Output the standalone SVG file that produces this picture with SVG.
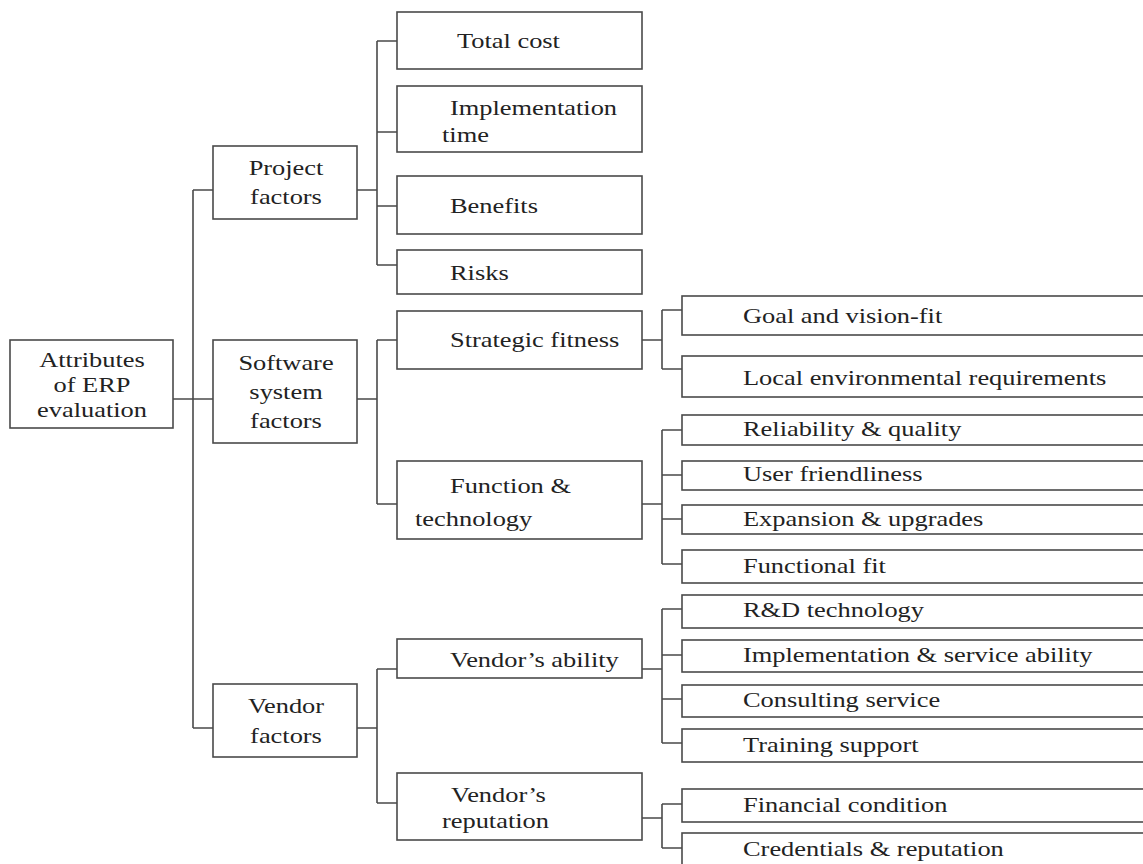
<svg xmlns="http://www.w3.org/2000/svg" width="1143" height="864" viewBox="0 0 1143 864">
<style>
  .box { fill: #ffffff; stroke: #4a4a4a; stroke-width: 1.6; }
  .con { fill: none; stroke: #4a4a4a; stroke-width: 1.6; }
  text { font-family: "Liberation Serif", "Times New Roman", serif; font-size: 22px; fill: #222222; }
  .mid { text-anchor: middle; }
</style>
<rect x="0" y="0" width="1143" height="864" fill="#ffffff"/>
<g id="connectors" class="con">
  <path d="M173,399 H213"/>
  <path d="M193,190 V728 M193,190 H213 M193,728 H213"/>
  <path d="M357,190 H377 M377,41 V265 M377,41 H397 M377,132 H397 M377,206 H397 M377,265 H397"/>
  <path d="M357,399 H377 M377,340 V504 M377,340 H397 M377,504 H397"/>
  <path d="M357,728 H377 M377,669 V803 M377,669 H397 M377,803 H397"/>
  <path d="M642,340 H662 M662,310 V369 M662,310 H682 M662,369 H682"/>
  <path d="M642,504 H662 M662,430 V564 M662,430 H682 M662,475 H682 M662,519 H682 M662,564 H682"/>
  <path d="M642,669 H662 M662,609 V743 M662,609 H682 M662,655 H682 M662,699 H682 M662,743 H682"/>
  <path d="M642,818 H662 M662,804 V848 M662,804 H682 M662,848 H682"/>
</g>
<g id="root">
  <rect class="box" x="10" y="340" width="163" height="88"/>
  <text class="mid" transform="translate(92,367) scale(1.2,1)">Attributes</text>
  <text class="mid" transform="translate(92,392) scale(1.2,1)">of ERP</text>
  <text class="mid" transform="translate(92,417) scale(1.2,1)">evaluation</text>
</g>
<g id="project-factors">
  <rect class="box" x="213" y="146" width="144" height="73"/>
  <text class="mid" transform="translate(286,175) scale(1.2,1)">Project</text>
  <text class="mid" transform="translate(286,204) scale(1.2,1)">factors</text>
</g>
<g id="software-factors">
  <rect class="box" x="213" y="340" width="144" height="103"/>
  <text class="mid" transform="translate(286,370) scale(1.2,1)">Software</text>
  <text class="mid" transform="translate(286,399) scale(1.2,1)">system</text>
  <text class="mid" transform="translate(286,428) scale(1.2,1)">factors</text>
</g>
<g id="vendor-factors">
  <rect class="box" x="213" y="684" width="144" height="73"/>
  <text class="mid" transform="translate(286,713) scale(1.2,1)">Vendor</text>
  <text class="mid" transform="translate(286,743) scale(1.2,1)">factors</text>
</g>
<g id="total-cost">
  <rect class="box" x="397" y="12" width="245" height="57"/>
  <text transform="translate(457,48) scale(1.2,1)">Total cost</text>
</g>
<g id="implementation-time">
  <rect class="box" x="397" y="86" width="245" height="66"/>
  <text transform="translate(450,115) scale(1.2,1)">Implementation</text>
  <text transform="translate(442,142) scale(1.2,1)">time</text>
</g>
<g id="benefits">
  <rect class="box" x="397" y="176" width="245" height="58"/>
  <text transform="translate(450,213) scale(1.2,1)">Benefits</text>
</g>
<g id="risks">
  <rect class="box" x="397" y="250" width="245" height="44"/>
  <text transform="translate(450,280) scale(1.2,1)">Risks</text>
</g>
<g id="strategic-fitness">
  <rect class="box" x="397" y="311" width="245" height="58"/>
  <text transform="translate(450,347) scale(1.2,1)">Strategic fitness</text>
</g>
<g id="function-technology">
  <rect class="box" x="397" y="461" width="245" height="78"/>
  <text transform="translate(450,493) scale(1.2,1)">Function &amp;</text>
  <text transform="translate(415,526) scale(1.2,1)">technology</text>
</g>
<g id="vendors-ability">
  <rect class="box" x="397" y="639" width="245" height="39"/>
  <text transform="translate(450,667) scale(1.2,1)">Vendor’s ability</text>
</g>
<g id="vendors-reputation">
  <rect class="box" x="397" y="773" width="245" height="67"/>
  <text transform="translate(451,802) scale(1.2,1)">Vendor’s</text>
  <text transform="translate(442,828) scale(1.2,1)">reputation</text>
</g>
<g id="goal-vision">
  <rect class="box" x="682" y="296" width="470" height="39"/>
  <text transform="translate(743,323) scale(1.2,1)">Goal and vision-fit</text>
</g>
<g id="local-env">
  <rect class="box" x="682" y="356" width="470" height="41"/>
  <text transform="translate(743,385) scale(1.2,1)">Local environmental requirements</text>
</g>
<g id="reliability">
  <rect class="box" x="682" y="415" width="470" height="30"/>
  <text transform="translate(743,436) scale(1.2,1)">Reliability &amp; quality</text>
</g>
<g id="user-friendliness">
  <rect class="box" x="682" y="461" width="470" height="29"/>
  <text transform="translate(743,481) scale(1.2,1)">User friendliness</text>
</g>
<g id="expansion">
  <rect class="box" x="682" y="505" width="470" height="29"/>
  <text transform="translate(743,526) scale(1.2,1)">Expansion &amp; upgrades</text>
</g>
<g id="functional-fit">
  <rect class="box" x="682" y="550" width="470" height="33"/>
  <text transform="translate(743,573) scale(1.2,1)">Functional fit</text>
</g>
<g id="rd-technology">
  <rect class="box" x="682" y="595" width="470" height="33"/>
  <text transform="translate(743,617) scale(1.2,1)">R&amp;D technology</text>
</g>
<g id="implementation-service">
  <rect class="box" x="682" y="640" width="470" height="32"/>
  <text transform="translate(743,662) scale(1.2,1)">Implementation &amp; service ability</text>
</g>
<g id="consulting">
  <rect class="box" x="682" y="685" width="470" height="32"/>
  <text transform="translate(743,707) scale(1.2,1)">Consulting service</text>
</g>
<g id="training">
  <rect class="box" x="682" y="729" width="470" height="33"/>
  <text transform="translate(743,752) scale(1.2,1)">Training support</text>
</g>
<g id="financial">
  <rect class="box" x="682" y="789" width="470" height="33"/>
  <text transform="translate(743,812) scale(1.2,1)">Financial condition</text>
</g>
<g id="credentials">
  <rect class="box" x="682" y="833" width="470" height="40"/>
  <text transform="translate(743,856) scale(1.2,1)">Credentials &amp; reputation</text>
</g>
</svg>
